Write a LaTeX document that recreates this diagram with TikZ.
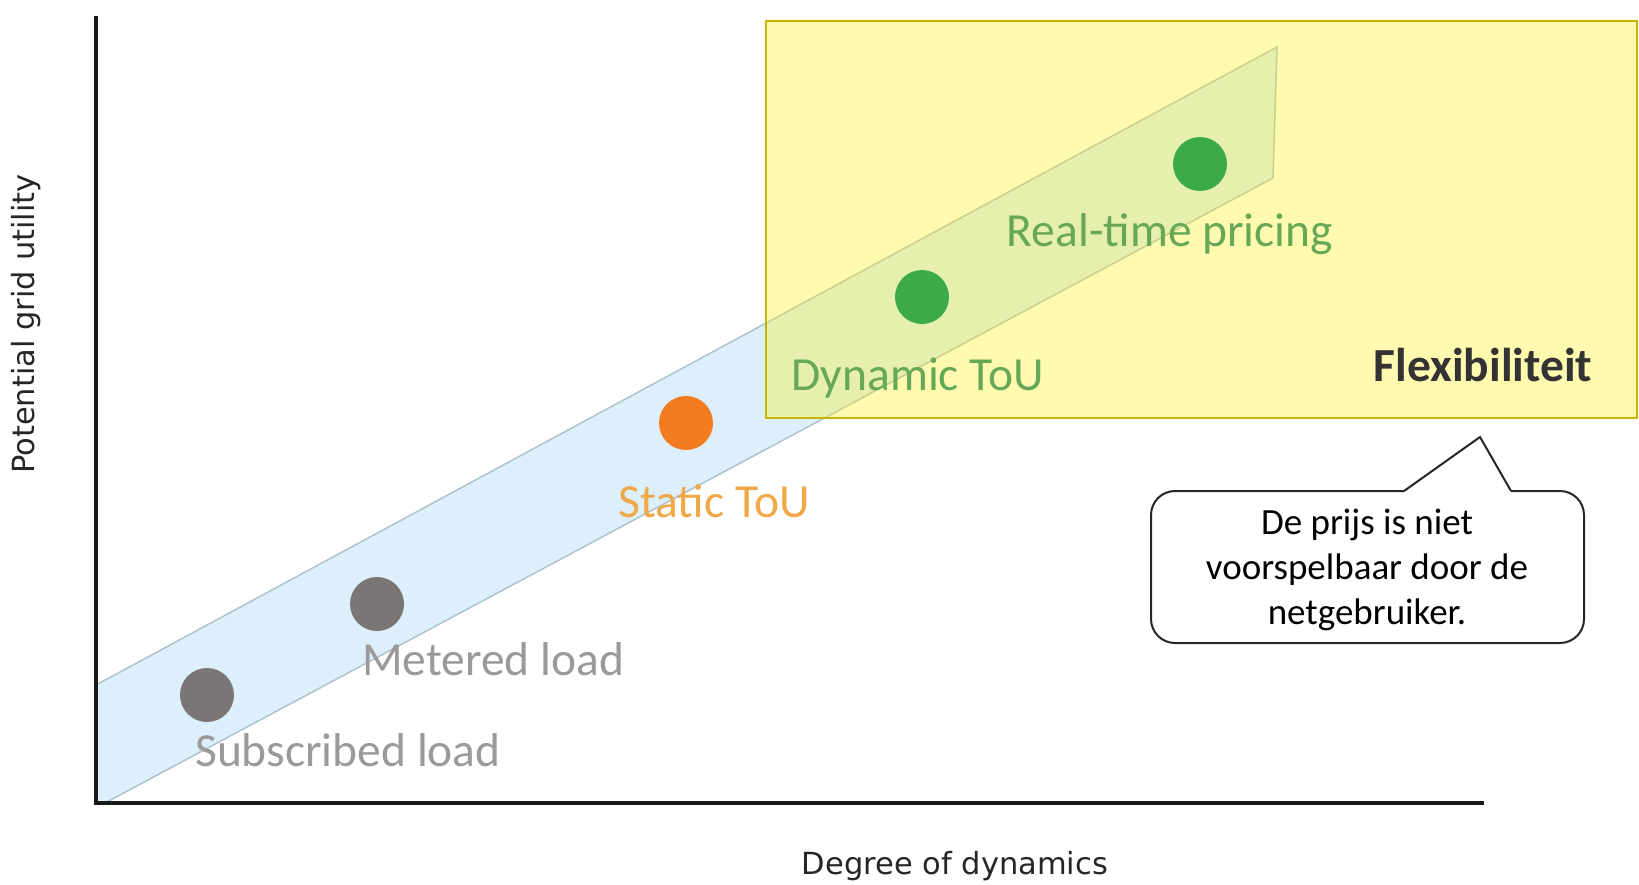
\documentclass[tikz,border=0pt]{standalone}
\usepackage{fontspec}
\setmainfont{Carlito}
\newfontfamily\axisfont{DejaVu Sans}
\definecolor{bandfill}{HTML}{DCEFFA}
\definecolor{bandedge}{HTML}{AFC3CF}
\definecolor{flexfill}{HTML}{FFF000}
\definecolor{flexedge}{HTML}{C8B400}
\definecolor{dotgray}{HTML}{7B7676}
\definecolor{dotorange}{HTML}{F47C20}
\definecolor{dotgreen}{HTML}{3DAA4A}
\definecolor{labgray}{HTML}{9A9A9A}
\definecolor{laborange}{HTML}{F0A848}
\definecolor{labgreen}{HTML}{66A855}
\tikzset{
  axisline/.style={line width=3.5pt, black!90},
  axislabel/.style={font=\axisfont\fontsize{30.5}{36}\selectfont, text=black!85, inner sep=0pt},
  dot/.style={circle, minimum size=54pt, inner sep=0pt},
  steplabel/.style={font=\fontsize{47.5}{54}\selectfont, inner sep=0pt},
  calloutline/.style={line width=2pt, black!85},
}
\begin{document}
\begin{tikzpicture}[x=1pt, y=-1pt]
\useasboundingbox (0,0) rectangle (1639,884);
\fill[white] (0,0) rectangle (1639,884);

% band of tariff schemes
\filldraw[fill=bandfill, draw=bandedge, line width=1.5pt]
  (96,685) -- (1277,47) -- (1273,178) -- (105,803) -- (96,803) -- cycle;

% axes
\coordinate (origin) at (96,803);
\coordinate (ytop) at (96,16);
\coordinate (xend) at (1484,803);
\draw[axisline] (ytop) -- (origin) -- (xend);
\node[axislabel, rotate=90] (ylab) at (26,324) {Potential grid utility};
\node[axislabel] (xlab) at (955,866) {Degree of dynamics};

% flexibility region
\fill[flexfill, fill opacity=0.31] (766,21) rectangle (1637,418);
\draw[flexedge, line width=2.5pt] (766,21) rectangle (1637,418);
\node[font=\bfseries\fontsize{47.5}{54}\selectfont, text=black!80, inner sep=0pt] (flex) at (1483,365) {Flexibiliteit};

% schemes
\node[dot, fill=dotgray] (subscribed) at (207,695) {};
\node[dot, fill=dotgray] (metered) at (377,604) {};
\node[dot, fill=dotorange] (static) at (686,423) {};
\node[dot, fill=dotgreen] (dynamic) at (922,297) {};
\node[dot, fill=dotgreen] (realtime) at (1200,164) {};

\node[steplabel, text=labgray] (subscribedlab) at (348,750) {Subscribed load};
\node[steplabel, text=labgray] (meteredlab) at (493,659) {Metered load};
\node[steplabel, text=laborange] (staticlab) at (714,501) {Static ToU};
\node[steplabel, text=labgreen] (dynamiclab) at (918,378) {Dynamic ToU};
\node[steplabel, text=labgreen] (realtimelab) at (1170,234) {Real-time pricing};

% callout
\draw[calloutline, rounded corners=24pt] (1151,491) rectangle (1584,643);
\draw[white, line width=4pt] (1404,491) -- (1511,491);
\coordinate (tip) at (1480,437);
\draw[calloutline, line join=miter] (1404,491) -- (tip) -- (1511,491);
\node[align=center, font=\fontsize{37}{45}\selectfont, inner sep=0pt] (note) at (1367,570)
  {De prijs is niet\\voorspelbaar door de\\netgebruiker.};
\end{tikzpicture}
\end{document}
